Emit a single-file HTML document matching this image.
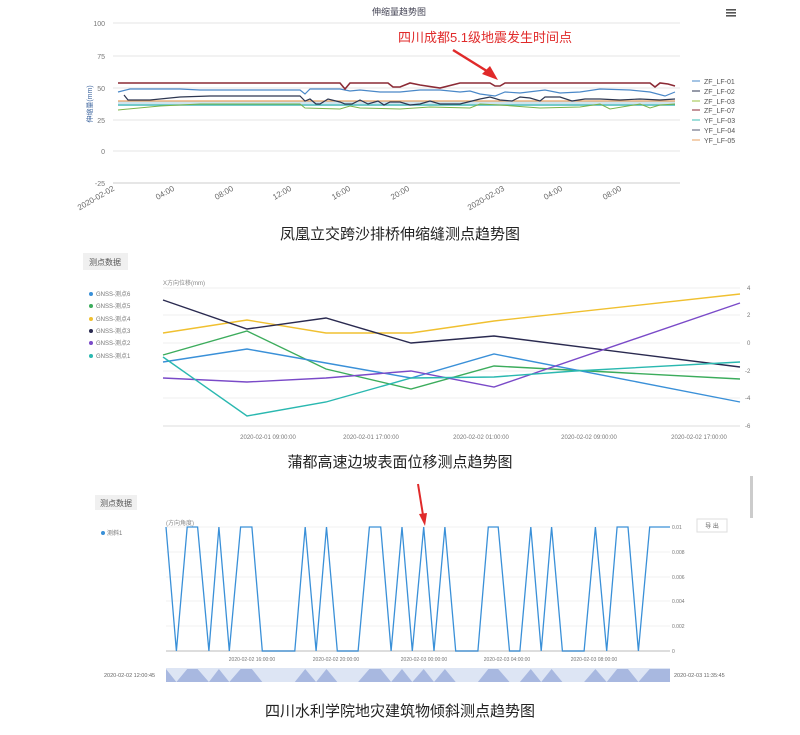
<!DOCTYPE html>
<html><head><meta charset="utf-8"><style>
html,body{margin:0;padding:0;background:#fff;}
body{width:800px;height:735px;overflow:hidden;font-family:"Liberation Sans","Noto Sans CJK SC",sans-serif;}
svg{position:absolute;left:0;top:0;}
</style></head><body>
<svg id="s" width="800" height="735" viewBox="0 0 800 735" font-family="Liberation Sans, Noto Sans CJK SC, sans-serif">
<!-- TOP CHART -->
<text x="399" y="15" font-size="9" fill="#445" text-anchor="middle">伸缩量趋势图</text>
<g fill="#555"><rect x="726" y="9" width="10" height="1.6"/><rect x="726" y="12" width="10" height="1.6"/><rect x="726" y="15" width="10" height="1.6"/></g>
<g stroke="#e4e4e4" stroke-width="1">
<line x1="113" y1="23" x2="680" y2="23"/><line x1="113" y1="56" x2="680" y2="56"/><line x1="113" y1="88" x2="680" y2="88"/><line x1="113" y1="120" x2="680" y2="120"/><line x1="113" y1="151" x2="680" y2="151"/><line x1="113" y1="183" x2="680" y2="183" stroke="#ccc"/>
</g>
<g font-size="7" fill="#777" text-anchor="end">
<text x="105" y="26">100</text><text x="105" y="59">75</text><text x="105" y="91">50</text><text x="105" y="123">25</text><text x="105" y="154">0</text><text x="105" y="186">-25</text>
</g>
<text transform="translate(92,104) rotate(-90)" font-size="7" fill="#4a6fa5" text-anchor="middle">伸缩量(mm)</text>
<g font-size="8" fill="#666" text-anchor="end">
<text transform="translate(115,190) rotate(-30)">2020-02-02</text>
<text transform="translate(175,190) rotate(-30)">04:00</text>
<text transform="translate(234,190) rotate(-30)">08:00</text>
<text transform="translate(292,190) rotate(-30)">12:00</text>
<text transform="translate(351,190) rotate(-30)">16:00</text>
<text transform="translate(410,190) rotate(-30)">20:00</text>
<text transform="translate(505,190) rotate(-30)">2020-02-03</text>
<text transform="translate(563,190) rotate(-30)">04:00</text>
<text transform="translate(622,190) rotate(-30)">08:00</text>
</g>
<rect x="118" y="101" width="557" height="5" fill="#cfe3ef"/>
<line x1="118" y1="105" x2="675" y2="105" stroke="#3cbcb4" stroke-width="1.2"/>
<line x1="118" y1="101" x2="675" y2="101" stroke="#e8a060" stroke-width="1.2"/>
<polyline fill="none" stroke="#7ab348" stroke-width="1" points="118,110 160,106 200,104 300,104 305,108 340,109 350,106 360,108 400,109 430,107 470,108 480,104 500,105 540,108 580,107 600,104 610,109 640,104 650,108 660,105 675,104"/>
<polyline fill="none" stroke="#4a88c8" stroke-width="1.2" points="118,92 130,89 180,89 200,90 300,90 305,94 310,89 340,89 350,91 360,90 380,92 400,92 420,90 440,90 460,92 470,91 480,94 495,96 505,92 520,93 545,90 560,93 580,92 600,89 630,90 650,92 665,96 675,92"/>
<polyline fill="none" stroke="#2d3650" stroke-width="1.2" points="124,95 128,100 150,100 180,97 210,96 300,96 305,101 310,99 316,104 320,104 328,99 340,102 345,104 352,104 360,100 368,104 378,101 384,105 390,102 400,102 410,105 420,104 430,101 440,104 460,104 480,99 490,97 500,100 512,101 520,97 530,98 540,101 545,97 560,97 572,101 585,99 600,99 620,100 640,99 660,100 675,99"/>
<polyline fill="none" stroke="#8b2a35" stroke-width="1.6" points="118,83 340,83 345,89 350,83 388,83 393,87 400,87 410,83 420,85 440,88 460,83 490,83 495,86 500,86 505,83 650,83 655,87 660,83 668,84 675,86"/>
<text x="485" y="42" font-size="13" fill="#e02a2a" text-anchor="middle">四川成都5.1级地震发生时间点</text>
<line x1="453" y1="50" x2="490" y2="73" stroke="#e02a2a" stroke-width="2.5"/>
<polygon points="498,80 482,74 490,66" fill="#e02a2a"/>
<g font-size="7" fill="#555">
<line x1="692" y1="81" x2="700" y2="81" stroke="#4a88c8"/><text x="704" y="84">ZF_LF-01</text>
<line x1="692" y1="91" x2="700" y2="91" stroke="#2d3650"/><text x="704" y="94">ZF_LF-02</text>
<line x1="692" y1="101" x2="700" y2="101" stroke="#9bc040"/><text x="704" y="104">ZF_LF-03</text>
<line x1="692" y1="110" x2="700" y2="110" stroke="#8b2a35"/><text x="704" y="113">ZF_LF-07</text>
<line x1="692" y1="120" x2="700" y2="120" stroke="#3cbcb4"/><text x="704" y="123">YF_LF-03</text>
<line x1="692" y1="130" x2="700" y2="130" stroke="#555a70"/><text x="704" y="133">YF_LF-04</text>
<line x1="692" y1="140" x2="700" y2="140" stroke="#e8a060"/><text x="704" y="143">YF_LF-05</text>
</g>
<text x="400" y="239" font-size="15" fill="#222" text-anchor="middle">凤凰立交跨沙排桥伸缩缝测点趋势图</text>

<!-- MIDDLE CHART -->
<rect x="83" y="253" width="45" height="17" fill="#f0f0f0"/>
<text x="105" y="265" font-size="8" fill="#555" text-anchor="middle">测点数据</text>
<text x="163" y="285" font-size="6" fill="#888">X方向位移(mm)</text>
<g stroke="#efefef"><line x1="163" y1="288" x2="740" y2="288"/><line x1="163" y1="315" x2="740" y2="315"/><line x1="163" y1="343" x2="740" y2="343"/><line x1="163" y1="371" x2="740" y2="371"/><line x1="163" y1="398" x2="740" y2="398"/><line x1="163" y1="426" x2="740" y2="426" stroke="#ddd"/></g>
<g font-size="6" fill="#777"><text x="747" y="290">4</text><text x="747" y="317">2</text><text x="747" y="345">0</text><text x="745" y="373">-2</text><text x="745" y="400">-4</text><text x="745" y="428">-6</text></g>
<g font-size="6" fill="#777" text-anchor="middle"><text x="268" y="439">2020-02-01 09:00:00</text><text x="371" y="439">2020-02-01 17:00:00</text><text x="481" y="439">2020-02-02 01:00:00</text><text x="589" y="439">2020-02-02 09:00:00</text><text x="699" y="439">2020-02-02 17:00:00</text></g>
<g fill="none" stroke-width="1.4">
<polyline stroke="#f0c030" points="163,333 247,320 326,333 411,333 494,321 740,294"/>
<polyline stroke="#2a2a50" points="163,300 247,329 326,318 411,343 494,336 740,367"/>
<polyline stroke="#3cac5c" points="163,355 247,331 326,369 411,389 494,366 740,379"/>
<polyline stroke="#3a90d8" points="163,362 247,349 326,363 411,378 494,354 740,402"/>
<polyline stroke="#7a4ac8" points="163,378 247,382 326,378 411,371 494,387 740,303"/>
<polyline stroke="#2ab8b0" points="163,357 247,416 326,402 411,378 494,377 575,371 740,362"/>
</g>
<g font-size="6" fill="#777">
<circle cx="91" cy="294" r="2" fill="#3a90d8"/><text x="96" y="296">GNSS-测点6</text>
<circle cx="91" cy="306" r="2" fill="#3cac5c"/><text x="96" y="308">GNSS-测点5</text>
<circle cx="91" cy="319" r="2" fill="#f0c030"/><text x="96" y="321">GNSS-测点4</text>
<circle cx="91" cy="331" r="2" fill="#2a2a50"/><text x="96" y="333">GNSS-测点3</text>
<circle cx="91" cy="343" r="2" fill="#7a4ac8"/><text x="96" y="345">GNSS-测点2</text>
<circle cx="91" cy="356" r="2" fill="#2ab8b0"/><text x="96" y="358">GNSS-测点1</text>
</g>
<text x="400" y="467" font-size="15" fill="#222" text-anchor="middle">蒲都高速边坡表面位移测点趋势图</text>

<!-- BOTTOM CHART -->
<rect x="750" y="476" width="3" height="42" fill="#ccc"/>
<rect x="95" y="495" width="42" height="15" fill="#f0f0f0"/>
<text x="116" y="506" font-size="8" fill="#555" text-anchor="middle">测点数据</text>
<circle cx="103" cy="533" r="2" fill="#3a90d8"/><text x="107" y="535" font-size="6" fill="#777">测斜1</text>
<text x="166" y="525" font-size="6" fill="#888">(方向角度)</text>
<rect x="697" y="519" width="30" height="13" fill="#fff" stroke="#ddd"/>
<text x="712" y="528" font-size="6" fill="#666" text-anchor="middle">导 出</text>
<g stroke="#f0f0f0"><line x1="166" y1="527" x2="670" y2="527"/><line x1="166" y1="552" x2="670" y2="552"/><line x1="166" y1="577" x2="670" y2="577"/><line x1="166" y1="601" x2="670" y2="601"/><line x1="166" y1="626" x2="670" y2="626"/><line x1="166" y1="651" x2="670" y2="651" stroke="#ddd" stroke-width="2"/></g>
<g font-size="5" fill="#777"><text x="672" y="529">0.01</text><text x="672" y="554">0.008</text><text x="672" y="579">0.006</text><text x="672" y="603">0.004</text><text x="672" y="628">0.002</text><text x="672" y="653">0</text></g>
<g font-size="5" fill="#777" text-anchor="middle"><text x="252" y="661">2020-02-02 16:00:00</text><text x="336" y="661">2020-02-02 20:00:00</text><text x="424" y="661">2020-02-03 00:00:00</text><text x="507" y="661">2020-02-03 04:00:00</text><text x="594" y="661">2020-02-03 08:00:00</text></g>
<rect x="166" y="668" width="504" height="14" fill="#dde5f4"/>
<polygon id="slp" fill="#a8b8e0"/>
<polyline id="bl" fill="none" stroke="#3a90d8" stroke-width="1.3"/>
<g font-size="5.5" fill="#666"><text x="104" y="677">2020-02-02 12:00:45</text><text x="674" y="677">2020-02-03 11:35:45</text></g>
<line x1="418" y1="484" x2="423" y2="515" stroke="#e02a2a" stroke-width="2"/>
<polygon points="425,526 419,514 427,513" fill="#e02a2a"/>
<text x="400" y="716" font-size="15" fill="#222" text-anchor="middle">四川水利学院地灾建筑物倾斜测点趋势图</text>
</svg>
<script>
var z=[[235,1],[258,0],[282,1],[305,1],[330,0],[352,1],[375,0],[400,1],[425,1],[448,0],[520,0],[543,1],[567,0],[590,1],[614,0],[660,0],[685,1],[710,1],[733,0],[757,1],[780,0],[805,1],[828,0],[852,1],[876,0],[925,0],[948,1],[970,1],[995,0],[1018,0],[1042,1],[1065,0],[1088,1],[1112,0],[1160,0],[1185,1],[1210,0],[1233,1],[1257,1],[1280,0],[1305,1],[1350,1]];
function X(v){return 166+(v-235)*(504/1115);}
document.getElementById('bl').setAttribute('points',z.map(function(p){return X(p[0]).toFixed(1)+','+(p[1]?527:651);}).join(' '));
var s='166,682 '+z.map(function(p){return X(p[0]).toFixed(1)+','+(p[1]?669:682);}).join(' ')+' 670,682';
document.getElementById('slp').setAttribute('points',s);
</script>
</body></html>
